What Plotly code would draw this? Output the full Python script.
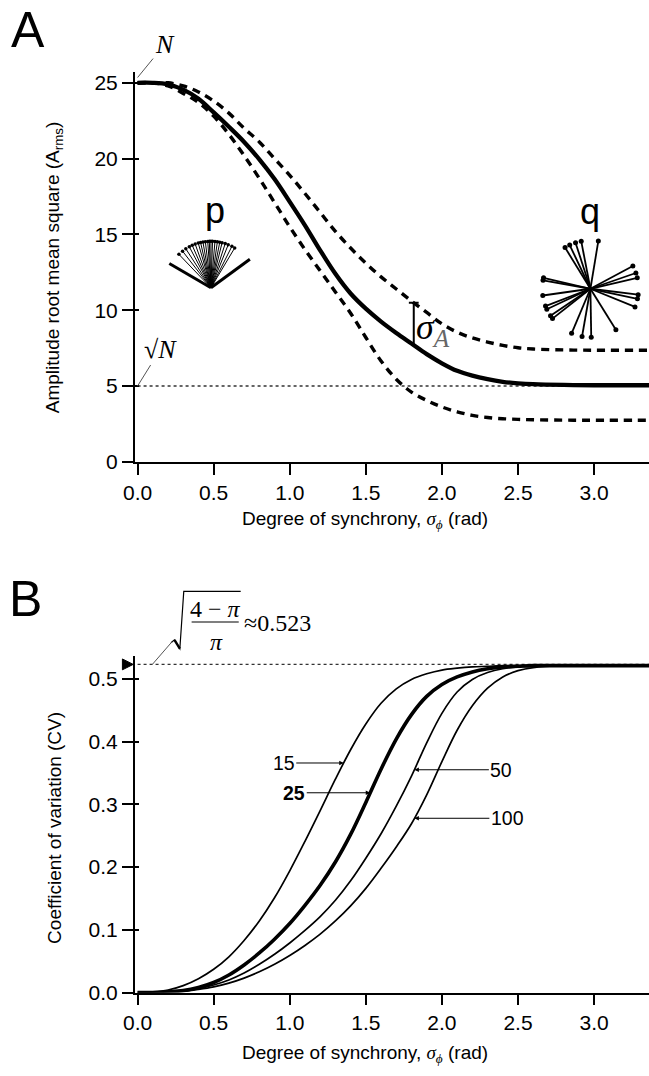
import numpy as np
import plotly.graph_objects as go

W, H = 649, 1076
SANS = "Liberation Sans, Arial, sans-serif"
SERIF = "Liberation Serif, Times New Roman, serif"

# ---------------- data: panel A ----------------
sigma_a = [0.0, 0.1, 0.2, 0.3, 0.4, 0.5, 0.6, 0.7, 0.8, 0.9, 1.0, 1.1, 1.2, 1.3, 1.4,
           1.5, 1.6, 1.7, 1.8, 1.9, 2.0, 2.1, 2.2, 2.3, 2.4, 2.5, 2.6, 2.8, 3.0, 3.37]
arms_mean = [25.0, 25.0, 24.9, 24.55, 23.95, 23.05, 22.1, 21.1, 19.95, 18.65, 17.15, 15.6, 13.95, 12.4, 11.1,
             10.1, 9.25, 8.5, 7.8, 7.1, 6.5, 6.0, 5.68, 5.45, 5.28, 5.18, 5.12, 5.07, 5.05, 5.05]
arms_upper = [25.0, 25.0, 25.0, 24.8, 24.4, 23.8, 23.0, 22.0, 21.1, 20.0, 18.9, 17.7, 16.45, 15.2, 14.1,
              13.1, 12.2, 11.4, 10.6, 9.85, 9.1, 8.55, 8.17, 7.9, 7.68, 7.52, 7.44, 7.38, 7.36, 7.36]
arms_lower = [25.0, 25.0, 24.8, 24.3, 23.7, 22.8, 21.6, 20.2, 18.7, 17.1, 15.5, 14.0, 12.6, 11.2, 9.8,
              8.2, 6.65, 5.45, 4.6, 4.05, 3.62, 3.3, 3.06, 2.92, 2.84, 2.8, 2.77, 2.75, 2.74, 2.74]
N_VALUE = 25.0
SQRT_N = 5.0
SIGMA_A_AT = 1.815

# phasor icons (angles in degrees from vertical, clockwise)
p_angles = [-44, -38, -33, -28, -24, -20, -16, -13, -10, -7, -4, -2, 0, 2, 5, 8, 11, 14, 18, 22, 27, 31]
p_thick_angles = [-60, 54]
q_angles = [9.5, -11, -18, -25.5, -31.8, -77, -80, -98, -111, -115, -124, -128, -157, -170,
            179, 148, 112, 102, 97, 77, 71, 62]

# ---------------- data: panel B ----------------
sigma_b = [0.0, 0.1, 0.2, 0.3, 0.4, 0.5, 0.6, 0.7, 0.8, 0.9, 1.0, 1.1, 1.2, 1.3, 1.4,
           1.5, 1.6, 1.7, 1.8, 1.9, 2.0, 2.1, 2.2, 2.3, 2.4, 2.5, 2.6, 2.8, 3.0, 3.37]
cv_15 = [0, 0.001, 0.004, 0.011, 0.022, 0.037, 0.057, 0.083, 0.114, 0.151, 0.194, 0.241, 0.290, 0.340, 0.387,
         0.428, 0.461, 0.484, 0.499, 0.508, 0.514, 0.517, 0.519, 0.520, 0.521, 0.521, 0.521, 0.521, 0.521, 0.521]
cv_25 = [0, 0, 0.001, 0.003, 0.008, 0.016, 0.028, 0.044, 0.063, 0.085, 0.110, 0.139, 0.171, 0.208, 0.252,
         0.303, 0.356, 0.404, 0.443, 0.472, 0.491, 0.503, 0.511, 0.516, 0.519, 0.520, 0.521, 0.521, 0.521, 0.521]
cv_50 = [0, 0, 0.001, 0.002, 0.006, 0.012, 0.020, 0.031, 0.045, 0.061, 0.079, 0.099, 0.121, 0.147, 0.178,
         0.214, 0.253, 0.297, 0.345, 0.398, 0.445, 0.479, 0.499, 0.510, 0.516, 0.519, 0.520, 0.521, 0.521, 0.521]
cv_100 = [0, 0, 0.001, 0.002, 0.005, 0.009, 0.015, 0.023, 0.033, 0.045, 0.059, 0.075, 0.093, 0.114, 0.138,
          0.166, 0.198, 0.232, 0.269, 0.315, 0.368, 0.418, 0.457, 0.485, 0.503, 0.513, 0.518, 0.521, 0.521, 0.521]
CV_LIMIT = 0.523
x_ticks = [0.0, 0.5, 1.0, 1.5, 2.0, 2.5, 3.0]
ya_ticks = [0, 5, 10, 15, 20, 25]
yb_ticks = [0.0, 0.1, 0.2, 0.3, 0.4, 0.5]

# ---------------- layout geometry ----------------
X_RANGE = [-0.019, 3.361]
YA_RANGE = [0, 25.7]
YB_RANGE = [0, 0.537]
XDOM = [125 / W, 1.0]
YA_DOM = [1 - 466 / H, 1 - 72 / H]
YB_DOM = [1 - 1002.7 / H, 1 - 662 / H]


def pxx(x):
    return x / W


def pxy(y):
    return 1 - y / H


# pixels per data unit (panel A / B) for icon drawing
SX = (XDOM[1] - XDOM[0]) * W / (X_RANGE[1] - X_RANGE[0])
SY = (YA_DOM[1] - YA_DOM[0]) * H / (YA_RANGE[1] - YA_RANGE[0])
SYB = (YB_DOM[1] - YB_DOM[0]) * H / (YB_RANGE[1] - YB_RANGE[0])

fig = go.Figure()

spline = dict(shape="spline", smoothing=1.0)

# Panel A curves
fig.add_trace(go.Scatter(x=sigma_a, y=arms_upper, mode="lines", xaxis="x", yaxis="y",
                         line=dict(color="black", width=3.4, dash="8px,6px", **spline)))
fig.add_trace(go.Scatter(x=sigma_a, y=arms_lower, mode="lines", xaxis="x", yaxis="y",
                         line=dict(color="black", width=3.4, dash="8px,6px", **spline)))
fig.add_trace(go.Scatter(x=[0, sigma_a[-1]], y=[SQRT_N, SQRT_N], mode="lines", xaxis="x", yaxis="y",
                         line=dict(color="#333", width=1.3, dash="dot")))
fig.add_trace(go.Scatter(x=sigma_a, y=arms_mean, mode="lines", xaxis="x", yaxis="y",
                         line=dict(color="black", width=4.3, **spline)))

# sigma_A bracket
y_lo = float(np.interp(SIGMA_A_AT, sigma_a, arms_mean))
y_hi = float(np.interp(SIGMA_A_AT, sigma_a, arms_upper))
fig.add_trace(go.Scatter(x=[SIGMA_A_AT, SIGMA_A_AT], y=[y_lo, y_hi], mode="lines", xaxis="x", yaxis="y",
                         line=dict(color="black", width=2)))
fig.add_trace(go.Scatter(x=[SIGMA_A_AT], y=[y_hi], mode="markers", xaxis="x", yaxis="y",
                         marker=dict(symbol="line-ew-open", size=7, color="black",
                                     line=dict(color="black", width=2))))


def phasors(cx_px, cy_px, angles, length):
    cx = X_RANGE[0] + (cx_px - 125) / SX
    cy = YA_RANGE[0] + (466 - cy_px) / SY
    xs, ys, ex, ey = [], [], [], []
    for a in angles:
        r = np.deg2rad(a)
        x1 = cx + length * np.sin(r) / SX
        y1 = cy + length * np.cos(r) / SY
        xs += [cx, x1, None]
        ys += [cy, y1, None]
        ex.append(x1)
        ey.append(y1)
    return xs, ys, ex, ey


# p icon
xs, ys, ex, ey = phasors(202.7, 290, p_angles, 47)
fig.add_trace(go.Scatter(x=xs, y=ys, mode="lines", xaxis="x", yaxis="y",
                         line=dict(color="black", width=1.0)))
fig.add_trace(go.Scatter(x=ex, y=ey, mode="markers", xaxis="x", yaxis="y",
                         marker=dict(color="black", size=3.5)))
xs, ys, ex, ey = phasors(202.7, 290, p_thick_angles, 49)
fig.add_trace(go.Scatter(x=xs, y=ys, mode="lines", xaxis="x", yaxis="y",
                         line=dict(color="black", width=3.0)))

# q icon
xs, ys, ex, ey = phasors(589.3, 291, q_angles, 49)
fig.add_trace(go.Scatter(x=xs, y=ys, mode="lines", xaxis="x", yaxis="y",
                         line=dict(color="black", width=1.8)))
fig.add_trace(go.Scatter(x=ex, y=ey, mode="markers", xaxis="x", yaxis="y",
                         marker=dict(color="black", size=5)))

# Panel B curves
fig.add_trace(go.Scatter(x=[0, sigma_b[-1]], y=[CV_LIMIT, CV_LIMIT], mode="lines", xaxis="x2", yaxis="y2",
                         line=dict(color="#333", width=1.3, dash="dot")))
for cv, w in [(cv_15, 1.7), (cv_50, 1.7), (cv_100, 1.7), (cv_25, 3.6)]:
    fig.add_trace(go.Scatter(x=sigma_b, y=cv, mode="lines", xaxis="x2", yaxis="y2",
                             line=dict(color="black", width=w, **spline)))

# dummy traces for inside tick overlays
fig.add_trace(go.Scatter(x=[None], y=[None], xaxis="x", yaxis="y3"))
fig.add_trace(go.Scatter(x=[None], y=[None], xaxis="x2", yaxis="y4"))

TICKFONT = dict(family=SANS, size=21, color="black")
axis_common = dict(showline=True, linecolor="black", linewidth=1.5, ticks="outside", ticklen=11,
                   tickwidth=1.5, tickcolor="black", showgrid=False, zeroline=False, tickfont=TICKFONT)
inside_common = dict(side="left", ticks="inside", ticklen=4, tickwidth=1.5, tickcolor="black",
                     showticklabels=False, showline=False, showgrid=False, zeroline=False)

fig.update_layout(
    width=W, height=H, margin=dict(l=0, r=0, t=0, b=0),
    paper_bgcolor="white", plot_bgcolor="white", showlegend=False,
    xaxis=dict(domain=XDOM, range=X_RANGE, anchor="y", tickvals=x_ticks, tickformat=".1f", **axis_common),
    yaxis=dict(domain=YA_DOM, range=YA_RANGE, anchor="x", tickvals=ya_ticks, **axis_common),
    xaxis2=dict(domain=XDOM, range=X_RANGE, anchor="y2", tickvals=x_ticks, tickformat=".1f", **axis_common),
    yaxis2=dict(domain=YB_DOM, range=YB_RANGE, anchor="x2", tickvals=yb_ticks, tickformat=".1f",
                **axis_common),
    yaxis3=dict(overlaying="y", anchor="x", range=YA_RANGE, tickvals=ya_ticks, **inside_common),
    yaxis4=dict(overlaying="y2", anchor="x2", range=YB_RANGE, tickvals=yb_ticks, **inside_common),
)

ann = []


def paper_text(x, y, text, size, family=SANS, angle=0, xanchor="center", color="black"):
    ann.append(dict(x=pxx(x), y=pxy(y), xref="paper", yref="paper", text=text, showarrow=False,
                    font=dict(family=family, size=size, color=color), textangle=angle,
                    xanchor=xanchor, yanchor="middle"))


xtitle = ("Degree of synchrony, <span style='font-family:Liberation Serif'><i>σ</i>"
          "<sub><i>ϕ</i></sub></span> (rad)")
paper_text(16, 29, "A", 50)
paper_text(14, 605, "B", 50)
paper_text(360, 525, xtitle, 19)
paper_text(360, 1065, xtitle, 19)
paper_text(43, 270, "Amplitude root mean square (A<sub>rms</sub>)", 19, angle=-90)
paper_text(43, 836, "Coefficient of variation (CV)", 19, angle=-90)
paper_text(207, 212, "p", 36)
paper_text(589, 213, "q", 36)
paper_text(410, 332, "<i>σ</i><sub><span style='color:#666'><i>A</i></span></sub>", 36,
           family=SERIF, xanchor="left")
# sqrt((4-pi)/pi) ~ 0.523
paper_text(207.5, 615, "4 − <i>π</i>", 24, family=SERIF)
paper_text(208, 648, "<i>π</i>", 24, family=SERIF)
paper_text(234, 629, "≈0.523", 24, family=SERIF, xanchor="left")

# leader lines
ann.append(dict(x=0.0, y=N_VALUE + 0.35, xref="x", yref="y", text="<i>N</i>", showarrow=True,
                arrowhead=0, arrowwidth=1, arrowcolor="#555", ax=27, ay=-33,
                font=dict(family=SERIF, size=26, color="black")))
ann.append(dict(x=0.0, y=SQRT_N, xref="x", yref="y", text="√<i>N</i>", showarrow=True,
                arrowhead=0, arrowwidth=1, arrowcolor="#555", ax=23, ay=-37,
                font=dict(family=SERIF, size=26, color="black")))

# curve labels
for label, xs_, cv, dx, bold in [("15", 1.355, cv_15, -60, False), ("25", 1.529, cv_25, -76, True),
                                 ("50", 1.819, cv_50, 87, False), ("100", 1.819, cv_100, 93, False)]:
    yv = float(np.interp(xs_, sigma_b, cv))
    ann.append(dict(x=xs_, y=yv, xref="x2", yref="y2", text=f"<b>{label}</b>" if bold else label,
                    showarrow=True, arrowhead=2, arrowsize=0.9, arrowwidth=1, arrowcolor="black",
                    ax=dx, ay=0, font=dict(family=SANS, size=19.5, color="black")))

fig.update_layout(annotations=ann)

# radical sign, fraction bar, leader line and limit marker
lim_py = 1002.7 - CV_LIMIT * SYB
tri_h = 5.5 / SYB
shapes = [
    dict(type="path", xref="paper", yref="paper", line=dict(color="black", width=1.2),
         path=f"M {pxx(162)},{pxy(649)} L {pxx(165.5)},{pxy(646)} L {pxx(171)},{pxy(655)} "
              f"L {pxx(175)},{pxy(597)} L {pxx(233)},{pxy(597)}"),
    dict(type="line", xref="paper", yref="paper", x0=pxx(165.5), y0=pxy(646), x1=pxx(171), y1=pxy(655),
         line=dict(color="black", width=2.4)),
    dict(type="line", xref="paper", yref="paper", x0=pxx(183), y0=pxy(628), x1=pxx(231), y1=pxy(628),
         line=dict(color="black", width=1.2)),
    dict(type="line", xref="paper", yref="paper", x0=pxx(163), y0=pxy(648), x1=pxx(143), y1=pxy(lim_py),
         line=dict(color="#555", width=1)),
    dict(type="path", xref="paper", yref="y2", fillcolor="black", line=dict(color="black", width=1),
         path=f"M {pxx(112.5)},{CV_LIMIT + tri_h} L {pxx(123.5)},{CV_LIMIT} "
              f"L {pxx(112.5)},{CV_LIMIT - tri_h} Z"),
]
fig.update_layout(shapes=shapes)

fig.write_html("out.html")
